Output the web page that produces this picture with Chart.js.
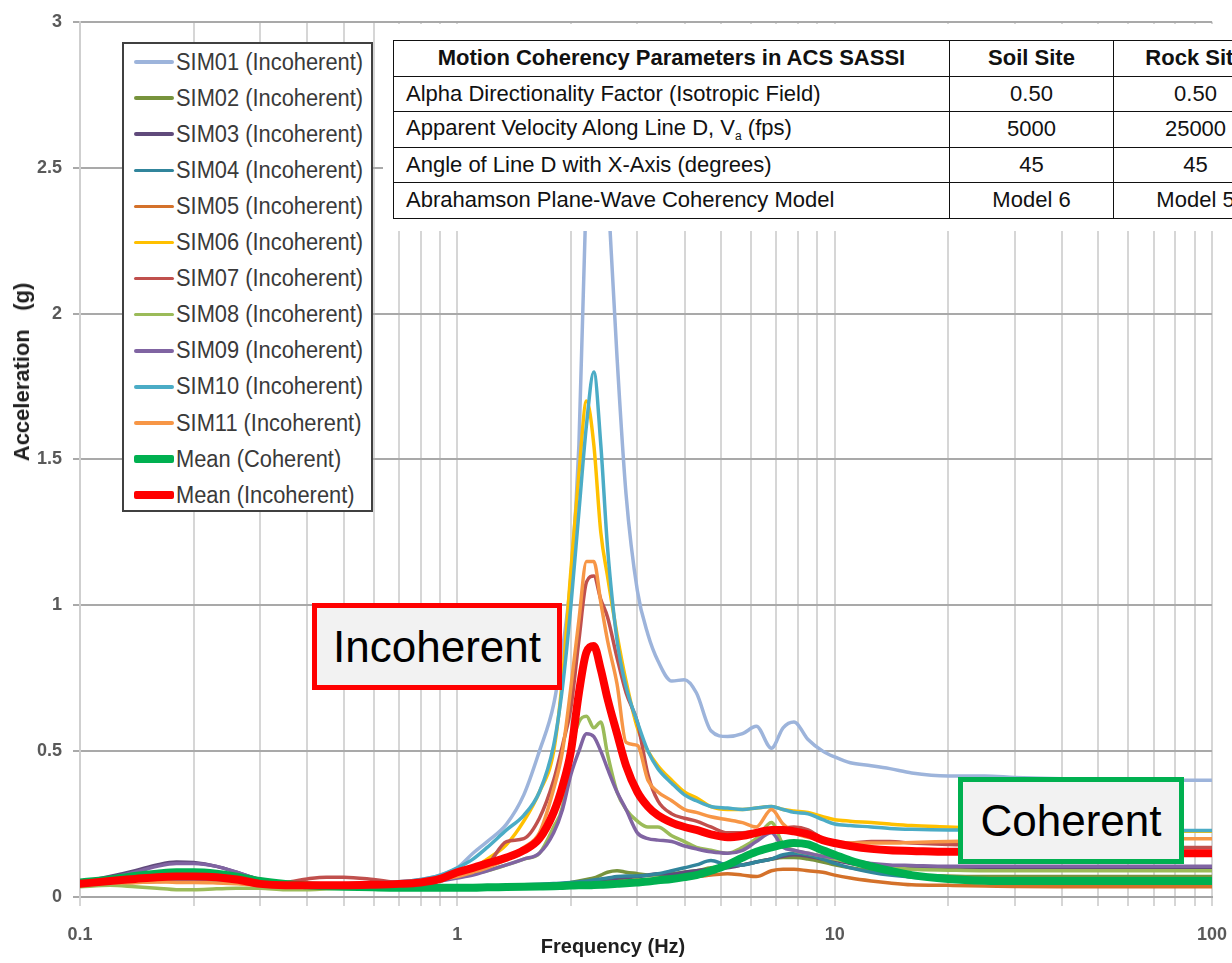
<!DOCTYPE html>
<html>
<head>
<meta charset="utf-8">
<title>Acceleration spectra - coherent vs incoherent</title>
<script src="https://cdn.jsdelivr.net/npm/chart.js@4.4.1/dist/chart.umd.min.js"></script>
<style>
  body { margin: 0; background: #fff; font-family: "Liberation Sans", Arial, sans-serif; }
  #page { position: relative; width: 1232px; height: 963px; overflow: hidden; }
  #chart { position: absolute; left: 0; top: 0; }

  /* white panel behind the parameter table */
  #tablePanel { position: absolute; left: 383px; top: 24px; width: 860px; height: 207px; background: #fff; }
  #params { position: absolute; left: 393px; top: 40px; width: 884px; table-layout: fixed; border-collapse: collapse; font-size: 22px; color: #111; }
  #params td { border: 1.5px solid #111; height: 34.5px; padding: 0; white-space: nowrap; overflow: hidden; }
  #params td.c { text-align: center; }
  #params td.l { padding-left: 12px; }
  #params tr.head td { font-weight: bold; }

  #legend { position: absolute; left: 122px; top: 42px; width: 247px; height: 466px; border: 2px solid #404040; background: #fff; }
  .lrow { position: absolute; left: 10px; height: 36px; display: flex; align-items: center; }
  .lline { width: 40px; border-radius: 2px; }
  .ltext { font-size: 23px; color: #3a3a3a; margin-left: 2px; transform: scaleX(0.95); transform-origin: left center; white-space: nowrap; }

  .note { position: absolute; box-sizing: border-box; height: 87px; background: #f2f2f2; border: 5px solid; font-size: 44px; color: #000; display: flex; align-items: center; justify-content: center; }
  #noteInc { left: 312px; top: 603px; width: 250px; border-color: #ff0000; }
  #noteCoh { left: 958px; top: 777px; width: 226px; border-color: #00b050; }

  .axisTitle { position: absolute; font-weight: bold; color: #1f1f1f; white-space: pre; }
  #yTitle { left: 22px; top: 372px; font-size: 22px; transform: translate(-50%, -50%) rotate(-90deg); }
  #xTitle { left: 613px; top: 946px; font-size: 20px; transform: translate(-50%, -50%); }
</style>
</head>
<body>
<div id="page">
  <canvas id="chart" width="1232" height="963"></canvas>

  <div id="tablePanel"></div>
  <table id="params">
    <colgroup><col style="width:556px"><col style="width:164px"><col style="width:164px"></colgroup>
    <tr class="head"><td class="c">Motion Coherency Parameters in ACS SASSI</td><td class="c">Soil Site</td><td class="c">Rock Site</td></tr>
    <tr><td class="l">Alpha Directionality Factor (Isotropic Field)</td><td class="c">0.50</td><td class="c">0.50</td></tr>
    <tr><td class="l">Apparent Velocity Along Line D, V<sub style="font-size:12px">a</sub> (fps)</td><td class="c">5000</td><td class="c">25000</td></tr>
    <tr><td class="l">Angle of Line D with X-Axis (degrees)</td><td class="c">45</td><td class="c">45</td></tr>
    <tr><td class="l">Abrahamson Plane-Wave Coherency Model</td><td class="c">Model 6</td><td class="c">Model 5</td></tr>
  </table>

  <div id="legend"></div>

  <div class="note" id="noteInc">Incoherent</div>
  <div class="note" id="noteCoh">Coherent</div>

  <div class="axisTitle" id="yTitle">Acceleration   (g)</div>
  <div class="axisTitle" id="xTitle">Frequency (Hz)</div>
</div>

<script>
// frequency grid (Hz) shared by all spectra
const freqHz = [0.1, 0.12, 0.14, 0.16, 0.18, 0.2, 0.23, 0.26, 0.3, 0.35,
  0.4, 0.45, 0.5, 0.6, 0.7, 0.8, 0.9, 1.0, 1.1, 1.2,
  1.35, 1.5, 1.65, 1.8, 1.9, 2.0, 2.1, 2.2, 2.3, 2.4,
  2.5, 2.65, 2.8, 3.0, 3.2, 3.4, 3.7, 4.0, 4.3, 4.7,
  5.2, 5.7, 6.2, 6.8, 7.3, 7.8, 8.5, 9.3, 10, 11,
  12.5, 14, 16, 20, 25, 30, 40, 50, 70, 100];

// spectral acceleration (g) for each simulation
const sim01 = [0.05, 0.06, 0.065, 0.07, 0.072, 0.07, 0.065, 0.055, 0.045, 0.042,
  0.042, 0.043, 0.045, 0.048, 0.052, 0.06, 0.075, 0.1, 0.15, 0.19,
  0.25, 0.35, 0.5, 0.66, 0.85, 1.1, 1.55, 2.45, 2.9, 2.85,
  2.45, 1.85, 1.38, 1.05, 0.9, 0.81, 0.74, 0.745, 0.7, 0.57,
  0.55, 0.56, 0.585, 0.51, 0.58, 0.6, 0.54, 0.5, 0.48, 0.46,
  0.45, 0.44, 0.425, 0.415, 0.415, 0.41, 0.405, 0.4, 0.4, 0.4];
const sim02 = [0.045, 0.05, 0.055, 0.058, 0.06, 0.06, 0.058, 0.052, 0.045, 0.04,
  0.038, 0.036, 0.035, 0.035, 0.035, 0.035, 0.035, 0.035, 0.035, 0.036,
  0.037, 0.038, 0.04, 0.042, 0.045, 0.05, 0.055, 0.06, 0.065, 0.075,
  0.085, 0.09, 0.085, 0.08, 0.075, 0.075, 0.08, 0.085, 0.09, 0.1,
  0.105, 0.11, 0.12, 0.13, 0.135, 0.135, 0.13, 0.12, 0.11, 0.1,
  0.09, 0.08, 0.075, 0.072, 0.07, 0.07, 0.07, 0.07, 0.07, 0.07];
const sim03 = [0.05, 0.07, 0.09, 0.11, 0.12, 0.118, 0.105, 0.085, 0.06, 0.045,
  0.04, 0.038, 0.036, 0.035, 0.035, 0.035, 0.035, 0.035, 0.035, 0.036,
  0.037, 0.038, 0.04, 0.042, 0.044, 0.045, 0.047, 0.05, 0.052, 0.055,
  0.058, 0.062, 0.066, 0.07, 0.075, 0.08, 0.078, 0.085, 0.09, 0.095,
  0.1, 0.11, 0.12, 0.13, 0.14, 0.145, 0.14, 0.13, 0.125, 0.115,
  0.105, 0.1, 0.1, 0.1, 0.1, 0.1, 0.1, 0.1, 0.1, 0.1];
const sim04 = [0.045, 0.05, 0.055, 0.06, 0.062, 0.062, 0.06, 0.055, 0.045, 0.04,
  0.038, 0.037, 0.036, 0.036, 0.036, 0.036, 0.036, 0.036, 0.037, 0.038,
  0.04, 0.042, 0.044, 0.046, 0.048, 0.05, 0.052, 0.055, 0.058, 0.062,
  0.065, 0.07, 0.072, 0.072, 0.075, 0.08, 0.09, 0.1, 0.11, 0.125,
  0.11, 0.11, 0.12, 0.13, 0.145, 0.15, 0.145, 0.13, 0.115, 0.1,
  0.085, 0.075, 0.068, 0.062, 0.06, 0.06, 0.06, 0.06, 0.06, 0.06];
const sim05 = [0.04, 0.045, 0.05, 0.052, 0.055, 0.055, 0.052, 0.048, 0.04, 0.036,
  0.035, 0.034, 0.034, 0.034, 0.034, 0.034, 0.034, 0.034, 0.034, 0.035,
  0.035, 0.036, 0.037, 0.038, 0.039, 0.04, 0.042, 0.044, 0.046, 0.048,
  0.05, 0.052, 0.055, 0.058, 0.06, 0.062, 0.065, 0.068, 0.07, 0.075,
  0.08, 0.075, 0.07, 0.09, 0.095, 0.095, 0.09, 0.085, 0.075, 0.065,
  0.055, 0.048, 0.042, 0.04, 0.038, 0.036, 0.035, 0.035, 0.035, 0.035];
const sim06 = [0.045, 0.05, 0.055, 0.06, 0.062, 0.062, 0.06, 0.055, 0.045, 0.042,
  0.042, 0.043, 0.045, 0.048, 0.05, 0.055, 0.065, 0.08, 0.1, 0.13,
  0.18, 0.26, 0.36, 0.5, 0.75, 1.12, 1.45, 1.7, 1.55, 1.25,
  1.1, 0.9, 0.74, 0.58, 0.5, 0.45, 0.4, 0.36, 0.34, 0.31,
  0.3, 0.3, 0.305, 0.31, 0.3, 0.295, 0.29, 0.275, 0.265, 0.26,
  0.255, 0.25, 0.245, 0.24, 0.235, 0.23, 0.228, 0.226, 0.225, 0.225];
const sim07 = [0.045, 0.05, 0.055, 0.06, 0.062, 0.062, 0.06, 0.055, 0.048, 0.05,
  0.062, 0.068, 0.068, 0.06, 0.05, 0.05, 0.06, 0.075, 0.09, 0.11,
  0.19, 0.2, 0.27, 0.4, 0.52, 0.65, 0.88, 1.08, 1.1, 1.02,
  0.96, 0.82, 0.7, 0.6, 0.42, 0.33, 0.285, 0.27, 0.26, 0.24,
  0.22, 0.22, 0.225, 0.23, 0.235, 0.24, 0.23, 0.2, 0.185, 0.185,
  0.19, 0.19, 0.185, 0.18, 0.178, 0.175, 0.172, 0.17, 0.17, 0.17];
const sim08 = [0.035, 0.04, 0.035, 0.03, 0.025, 0.025, 0.028, 0.03, 0.03, 0.025,
  0.025, 0.028, 0.03, 0.035, 0.04, 0.045, 0.055, 0.07, 0.08, 0.09,
  0.11, 0.13, 0.15, 0.24, 0.31, 0.5, 0.6, 0.62, 0.58, 0.6,
  0.49, 0.36, 0.3, 0.26, 0.24, 0.24, 0.21, 0.19, 0.17, 0.16,
  0.15, 0.17, 0.2, 0.255, 0.18, 0.16, 0.15, 0.14, 0.13, 0.12,
  0.11, 0.1, 0.095, 0.092, 0.09, 0.09, 0.09, 0.09, 0.09, 0.09];
const sim09 = [0.05, 0.065, 0.085, 0.105, 0.115, 0.115, 0.105, 0.085, 0.06, 0.045,
  0.04, 0.04, 0.04, 0.04, 0.042, 0.045, 0.055, 0.065, 0.075, 0.09,
  0.11, 0.13, 0.15, 0.22, 0.3, 0.42, 0.5, 0.56, 0.55, 0.5,
  0.44, 0.36, 0.3, 0.22, 0.2, 0.195, 0.19, 0.175, 0.165, 0.155,
  0.15, 0.16, 0.19, 0.22, 0.17, 0.16, 0.15, 0.14, 0.135, 0.125,
  0.115, 0.11, 0.108, 0.105, 0.105, 0.105, 0.105, 0.105, 0.105, 0.105];
const sim10 = [0.045, 0.05, 0.055, 0.058, 0.06, 0.06, 0.058, 0.052, 0.045, 0.042,
  0.042, 0.043, 0.045, 0.048, 0.052, 0.06, 0.075, 0.1, 0.13, 0.17,
  0.23, 0.28, 0.36, 0.52, 0.72, 1.0, 1.32, 1.62, 1.8, 1.55,
  1.2, 0.88, 0.72, 0.6, 0.5, 0.44, 0.39, 0.35, 0.33, 0.31,
  0.305, 0.3, 0.305, 0.31, 0.3, 0.29, 0.285, 0.265, 0.25, 0.245,
  0.24, 0.235, 0.232, 0.23, 0.23, 0.228, 0.228, 0.228, 0.228, 0.228];
const sim11 = [0.045, 0.048, 0.05, 0.052, 0.05, 0.05, 0.048, 0.045, 0.04, 0.038,
  0.038, 0.04, 0.042, 0.045, 0.048, 0.052, 0.06, 0.07, 0.085, 0.1,
  0.13, 0.17, 0.22, 0.37, 0.5, 0.72, 0.95, 1.15, 1.15, 1.01,
  0.88, 0.73, 0.53, 0.52, 0.4, 0.36, 0.33, 0.3, 0.29, 0.275,
  0.265, 0.255, 0.24, 0.3, 0.25, 0.22, 0.205, 0.195, 0.19, 0.185,
  0.185, 0.185, 0.187, 0.19, 0.193, 0.195, 0.198, 0.2, 0.2, 0.2];
const meanCoherent = [0.05, 0.06, 0.072, 0.08, 0.085, 0.085, 0.08, 0.07, 0.055, 0.045,
  0.04, 0.037, 0.035, 0.033, 0.032, 0.032, 0.032, 0.032, 0.032, 0.033,
  0.034, 0.035, 0.036, 0.037, 0.038, 0.039, 0.04, 0.04, 0.041, 0.042,
  0.043, 0.045, 0.047, 0.05, 0.053, 0.057, 0.062, 0.068, 0.075, 0.09,
  0.11, 0.135, 0.155, 0.17, 0.18, 0.185, 0.18, 0.16, 0.145, 0.125,
  0.105, 0.09, 0.075, 0.062, 0.056, 0.055, 0.055, 0.055, 0.055, 0.055];
const meanIncoherent = [0.045, 0.055, 0.062, 0.068, 0.07, 0.07, 0.068, 0.06, 0.045, 0.04,
  0.04, 0.04, 0.04, 0.042, 0.045, 0.05, 0.062, 0.085, 0.1, 0.115,
  0.135, 0.16, 0.2, 0.29, 0.38, 0.5, 0.7, 0.84, 0.86, 0.78,
  0.68, 0.56, 0.45, 0.36, 0.31, 0.28, 0.255, 0.24, 0.23, 0.215,
  0.205, 0.21, 0.22, 0.23, 0.23, 0.225, 0.215, 0.195, 0.185, 0.175,
  0.165, 0.16, 0.158, 0.155, 0.155, 0.155, 0.153, 0.152, 0.15, 0.15];

const seriesNames = ['SIM01 (Incoherent)', 'SIM02 (Incoherent)', 'SIM03 (Incoherent)',
  'SIM04 (Incoherent)', 'SIM05 (Incoherent)', 'SIM06 (Incoherent)', 'SIM07 (Incoherent)',
  'SIM08 (Incoherent)', 'SIM09 (Incoherent)', 'SIM10 (Incoherent)', 'SIM11 (Incoherent)',
  'Mean (Coherent)', 'Mean (Incoherent)'];
const seriesValues = [sim01, sim02, sim03, sim04, sim05, sim06, sim07, sim08, sim09, sim10, sim11,
  meanCoherent, meanIncoherent];
const seriesColors = ['#9db4db', '#77933c', '#604a7b', '#31859c', '#d4712a', '#ffc000', '#c0504d',
  '#9bbb59', '#8064a2', '#4bacc6', '#f79646', '#00b050', '#ff0000'];

// decade labels on the frequency axis
const xDecades = [0.1, 1, 10, 100];
const xDecadeLabels = ['0.1', '1', '10', '100'];

// the two mean curves are drawn thick
const lineWidth = (i) => (i >= 11 ? 8 : 3.5);

// legend box
const legend = document.getElementById('legend');
seriesNames.forEach((name, i) => {
  const row = document.createElement('div');
  row.className = 'lrow';
  row.style.top = (i * 36.1) + 'px';
  const sample = document.createElement('span');
  sample.className = 'lline';
  sample.style.height = lineWidth(i) + 'px';
  sample.style.background = seriesColors[i];
  const label = document.createElement('span');
  label.className = 'ltext';
  label.textContent = name;
  row.appendChild(sample);
  row.appendChild(label);
  legend.appendChild(row);
});

// gridline positions: 1..9 in every decade
const minorTicks = [];
[0.1, 1, 10].forEach(d => { for (let k = 1; k <= 9; k++) minorTicks.push(k * d); });
minorTicks.push(100);

const datasets = seriesValues.map((vals, i) => ({
  label: seriesNames[i],
  data: freqHz.map((f, j) => ({ x: f, y: vals[j] })),
  borderColor: seriesColors[i],
  borderWidth: lineWidth(i),
  pointRadius: 0,
  cubicInterpolationMode: 'monotone',
  borderJoinStyle: 'round',
  borderCapStyle: 'round',
  order: seriesValues.length - i, // later series on top
}));

const ctx = document.getElementById('chart').getContext('2d');
new Chart(ctx, {
  type: 'line',
  data: { datasets: datasets },
  options: {
    responsive: false,
    animation: false,
    devicePixelRatio: 1,
    layout: { padding: { top: 15, right: 20, left: 0, bottom: 0 } },
    plugins: { legend: { display: false }, tooltip: { enabled: false } },
    scales: {
      x: {
        type: 'logarithmic',
        min: 0.1,
        max: 100,
        afterBuildTicks: (scale) => { scale.ticks = minorTicks.map(v => ({ value: v })); },
        afterFit: (scale) => {
          scale.height = 66;
          // keep the end labels from shrinking the plot
          scale.paddingLeft = 0;
          scale.paddingRight = 0;
        },
        grid: { color: '#d6d6d6', lineWidth: 2, tickLength: 9 },
        border: { color: '#a6a6a6', width: 2 },
        ticks: {
          autoSkip: false,
          maxRotation: 0,
          padding: 18,
          color: '#595959',
          font: { family: 'Liberation Sans', size: 18, weight: 'bold' },
          callback: (value) => {
            const k = xDecades.findIndex(d => Math.abs(d - value) < d * 1e-6);
            return k >= 0 ? xDecadeLabels[k] : '';
          },
        },
      },
      y: {
        min: 0,
        max: 3,
        afterFit: (scale) => { scale.width = 80; },
        grid: { color: '#a9a9a9', lineWidth: 2, tickLength: 7 },
        border: { color: '#cfcfcf', width: 2 },
        ticks: {
          stepSize: 0.5,
          padding: 11,
          color: '#595959',
          font: { family: 'Liberation Sans', size: 18, weight: 'bold' },
          callback: (value) => String(Math.round(value * 10) / 10),
        },
      },
    },
  },
});
</script>
</body>
</html>
